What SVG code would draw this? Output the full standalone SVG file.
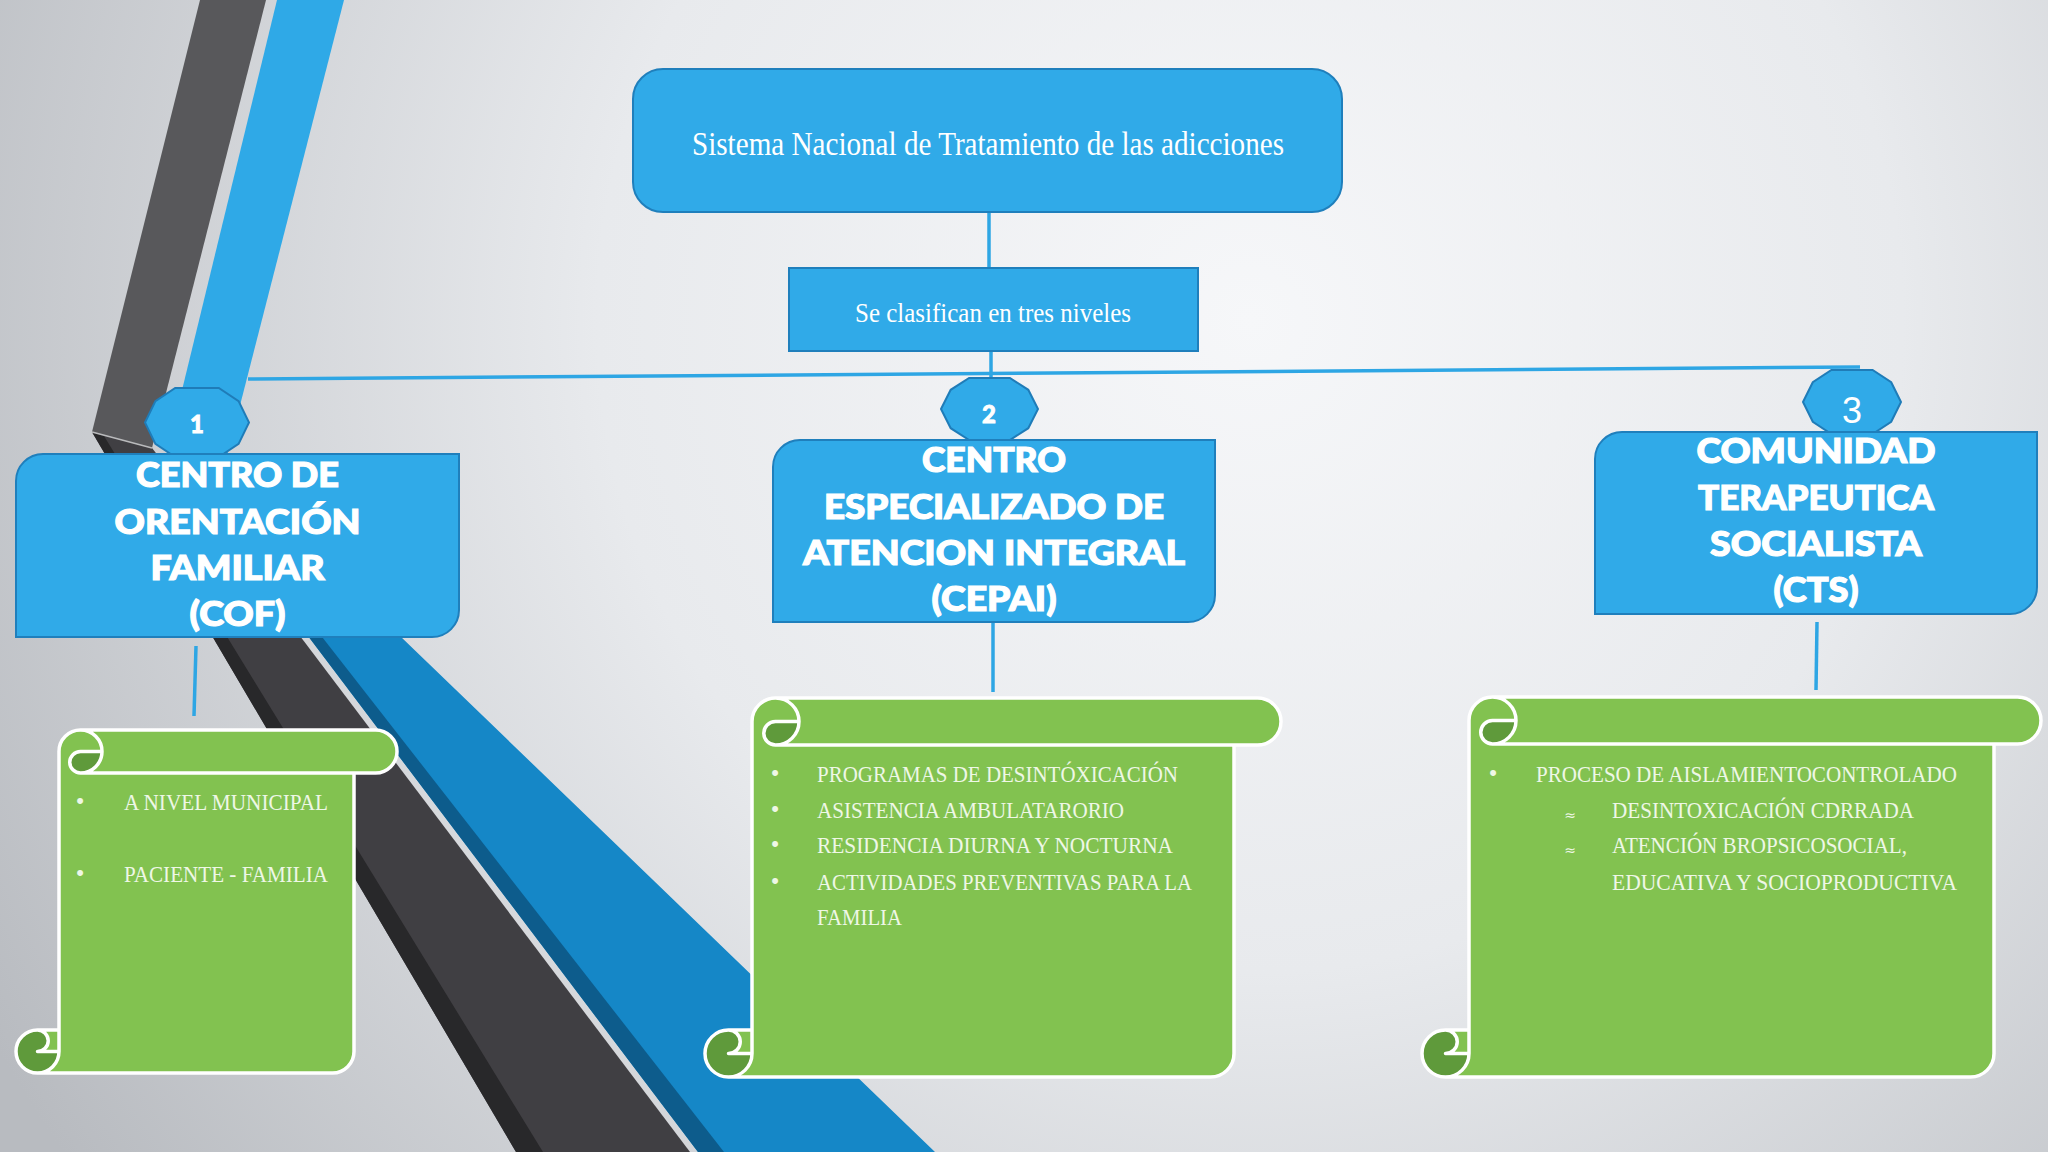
<svg xmlns="http://www.w3.org/2000/svg" width="2048" height="1152" viewBox="0 0 2048 1152">
<defs>
<radialGradient id="bg" gradientUnits="userSpaceOnUse" cx="1250" cy="320" r="1450">
<stop offset="0" stop-color="#f6f7f9"/>
<stop offset="0.45" stop-color="#e8eaed"/>
<stop offset="1" stop-color="#b8bbc0"/>
</radialGradient>
<style>
.hbox{fill:#30aae8;stroke:#1f7fbc;stroke-width:2}
.bdg{fill:#30aae8;stroke:#1f7cb8;stroke-width:2}
.h{font-family:Lato,"Open Sans","Liberation Sans",sans-serif;font-weight:900;font-size:34px;fill:#ffffff;stroke:#ffffff;stroke-width:1.2px;text-anchor:middle}
.num{font-family:Lato,"Open Sans","Liberation Sans",sans-serif;font-weight:900;font-size:24px;fill:#ffffff;stroke:#ffffff;stroke-width:0.8px;text-anchor:middle}
.cal{font-family:"Liberation Serif",serif;fill:#ffffff;text-anchor:middle}
.s{font-family:"Liberation Serif",serif;font-size:24px;fill:#eef7e6}
.bul{font-family:"Liberation Sans",sans-serif;font-size:22px;fill:#eef7e6;text-anchor:middle}
.apx{font-family:"DejaVu Sans",sans-serif;font-size:14px;fill:#eef7e6;text-anchor:middle}
.conn{stroke:#2ea6e4;stroke-width:3.5;fill:none}
.sbody{fill:#82c250;stroke:none}
.scurl{fill:#5f9a3b;stroke:none}
.sline{fill:none;stroke:#ffffff;stroke-width:3.5;stroke-linejoin:round}
</style>
</defs>

<g id="background">
<rect x="0" y="0" width="2048" height="1152" fill="url(#bg)"/>
<polygon points="200,0 266,0 152,448 92,432" fill="#58585b"/>
<polygon points="92,432 152,448 300,636 690,1152 516,1152" fill="#403f43"/>
<polygon points="92,432 104,436 543,1152 516,1152" fill="#28282a"/>
<line x1="92" y1="432" x2="152" y2="448" stroke="#b9babc" stroke-width="1.5"/>
<polygon points="277,0 344,0 226,460 165,460" fill="#2fa9e7"/>
<polygon points="165,460 226,460 400,636 935,1152 698,1152 175,460" fill="#1587c7"/>
<polygon points="175,460 184,460 724,1152 698,1152" fill="#0d5c8c"/>
</g>

<g id="connectors">
<line class="conn" x1="989" y1="212" x2="989" y2="268"/>
<line class="conn" x1="991" y1="351" x2="991" y2="380"/>
<line class="conn" x1="248" y1="379" x2="1860" y2="367" stroke-width="4"/>
<line class="conn" x1="196" y1="646" x2="194" y2="716"/>
<line class="conn" x1="993" y1="623" x2="993" y2="692"/>
<line class="conn" x1="1817" y1="622" x2="1816" y2="690"/>
</g>

<g id="node-sistema">
<rect x="633" y="69" width="709" height="143" rx="30" ry="30" class="hbox"/>
<text class="cal" x="988" y="155" font-size="33" textLength="592" lengthAdjust="spacingAndGlyphs">Sistema Nacional de Tratamiento de las adicciones</text>
</g>

<g id="node-niveles">
<rect x="789" y="268" width="409" height="83" class="hbox"/>
<text class="cal" x="993" y="322" font-size="28" textLength="276" lengthAdjust="spacingAndGlyphs">Se clasifican en tres niveles</text>
</g>

<g id="node-cof">
<polygon class="bdg" points="145,422.5 155.4,401.1 175.2,388 218.8,388 238.6,401.1 249,422.5 238.6,443.9 218.8,457 175.2,457 155.4,443.9"/>
<text class="num" x="197" y="433" font-size="23">1</text>
<path class="hbox" d="M43 454 L459 454 L459 610 A27 27 0 0 1 432 637 L16 637 L16 481 A27 27 0 0 1 43 454 Z"/>
<text class="h" x="237.5" y="487" textLength="203" lengthAdjust="spacingAndGlyphs">CENTRO DE</text>
<text class="h" x="237.5" y="534" textLength="246" lengthAdjust="spacingAndGlyphs">ORENTACIÓN</text>
<text class="h" x="237.5" y="580" textLength="174" lengthAdjust="spacingAndGlyphs">FAMILIAR</text>
<text class="h" x="237.5" y="626" textLength="96" lengthAdjust="spacingAndGlyphs">(COF)</text>
</g>

<g id="node-cepai">
<polygon class="bdg" points="941,409 950.7,389.8 969.1,378 1009.9,378 1028.3,389.8 1038,409 1028.3,428.2 1009.9,440 969.1,440 950.7,428.2"/>
<text class="num" x="989" y="423" font-size="25">2</text>
<path class="hbox" d="M800 440 L1215 440 L1215 595 A27 27 0 0 1 1188 622 L773 622 L773 467 A27 27 0 0 1 800 440 Z"/>
<text class="h" x="994" y="472" textLength="144" lengthAdjust="spacingAndGlyphs">CENTRO</text>
<text class="h" x="994" y="519" textLength="340" lengthAdjust="spacingAndGlyphs">ESPECIALIZADO DE</text>
<text class="h" x="994" y="565" textLength="382" lengthAdjust="spacingAndGlyphs">ATENCION INTEGRAL</text>
<text class="h" x="994" y="611" textLength="125" lengthAdjust="spacingAndGlyphs">(CEPAI)</text>
</g>

<g id="node-cts">
<polygon class="bdg" points="1803,402 1812.8,382.2 1831.4,370 1872.6,370 1891.2,382.2 1901,402 1891.2,421.8 1872.6,434 1831.4,434 1812.8,421.8"/>
<text x="1852" y="423" font-family="'Liberation Sans',sans-serif" font-size="36" fill="#ffffff" text-anchor="middle">3</text>
<path class="hbox" d="M1622 432 L2037 432 L2037 587 A27 27 0 0 1 2010 614 L1595 614 L1595 459 A27 27 0 0 1 1622 432 Z"/>
<text class="h" x="1816" y="463" textLength="239" lengthAdjust="spacingAndGlyphs">COMUNIDAD</text>
<text class="h" x="1816" y="510" textLength="236" lengthAdjust="spacingAndGlyphs">TERAPEUTICA</text>
<text class="h" x="1816" y="556" textLength="212" lengthAdjust="spacingAndGlyphs">SOCIALISTA</text>
<text class="h" x="1816" y="602" textLength="85" lengthAdjust="spacingAndGlyphs">(CTS)</text>
</g>

<g id="node-scroll-cof">
<path class="sbody" d="M37.5 1073 A21.5 21.5 0 0 0 59 1051.5 L37.5 1051.5 A10.75 10.75 0 0 0 37.5 1030 L59 1030 L59 751.5 A21.5 21.5 0 0 1 80.5 730 L375.5 730 A21.5 21.5 0 0 1 375.5 773 L354 773 L354 1051.5 A21.5 21.5 0 0 1 332.5 1073 Z"/>
<path class="scurl" d="M102 751.5 A21.5 21.5 0 0 1 80.5 773 A10.75 10.75 0 0 1 80.5 751.5 Z M59 1051.5 A21.5 21.5 0 1 1 37.5 1030 A10.75 10.75 0 0 1 37.5 1051.5 Z"/>
<path class="sline" d="M59 1030 L59 751.5 A21.5 21.5 0 0 1 80.5 730 L375.5 730 A21.5 21.5 0 0 1 375.5 773 L354 773 L354 1051.5 A21.5 21.5 0 0 1 332.5 1073 L37.5 1073 A21.5 21.5 0 0 1 37.5 1030 Z M80.5 730 A21.5 21.5 0 0 1 80.5 773 A10.75 10.75 0 0 1 80.5 751.5 L102 751.5 M354 773 L80.5 773 M37.5 1030 A10.75 10.75 0 0 1 37.5 1051.5 L59 1051.5 M37.5 1073 A21.5 21.5 0 0 0 59 1051.5 L59 1030"/>
<text class="bul" x="80" y="808">•</text>
<text class="s" x="124" y="810" textLength="204" lengthAdjust="spacingAndGlyphs">A NIVEL MUNICIPAL</text>
<text class="bul" x="80" y="880">•</text>
<text class="s" x="124" y="882" textLength="204" lengthAdjust="spacingAndGlyphs">PACIENTE - FAMILIA</text>
</g>

<g id="node-scroll-cepai">
<path class="sbody" d="M728.5 1077 A23.5 23.5 0 0 0 752 1053.5 L728.5 1053.5 A11.75 11.75 0 0 0 728.5 1030 L752 1030 L752 721.5 A23.5 23.5 0 0 1 775.5 698 L1257.5 698 A23.5 23.5 0 0 1 1257.5 745 L1234 745 L1234 1053.5 A23.5 23.5 0 0 1 1210.5 1077 Z"/>
<path class="scurl" d="M799 721.5 A23.5 23.5 0 0 1 775.5 745 A11.75 11.75 0 0 1 775.5 721.5 Z M752 1053.5 A23.5 23.5 0 1 1 728.5 1030 A11.75 11.75 0 0 1 728.5 1053.5 Z"/>
<path class="sline" d="M752 1030 L752 721.5 A23.5 23.5 0 0 1 775.5 698 L1257.5 698 A23.5 23.5 0 0 1 1257.5 745 L1234 745 L1234 1053.5 A23.5 23.5 0 0 1 1210.5 1077 L728.5 1077 A23.5 23.5 0 0 1 728.5 1030 Z M775.5 698 A23.5 23.5 0 0 1 775.5 745 A11.75 11.75 0 0 1 775.5 721.5 L799 721.5 M1234 745 L775.5 745 M728.5 1030 A11.75 11.75 0 0 1 728.5 1053.5 L752 1053.5 M728.5 1077 A23.5 23.5 0 0 0 752 1053.5 L752 1030"/>
<text class="bul" x="775" y="780">•</text>
<text class="s" x="817" y="782" textLength="361" lengthAdjust="spacingAndGlyphs">PROGRAMAS DE DESINTÓXICACIÓN</text>
<text class="bul" x="775" y="816">•</text>
<text class="s" x="817" y="818" textLength="307" lengthAdjust="spacingAndGlyphs">ASISTENCIA AMBULATARORIO</text>
<text class="bul" x="775" y="851">•</text>
<text class="s" x="817" y="853" textLength="356" lengthAdjust="spacingAndGlyphs">RESIDENCIA DIURNA Y NOCTURNA</text>
<text class="bul" x="775" y="888">•</text>
<text class="s" x="817" y="890" textLength="375" lengthAdjust="spacingAndGlyphs">ACTIVIDADES PREVENTIVAS PARA LA</text>
<text class="s" x="817" y="925" textLength="85" lengthAdjust="spacingAndGlyphs">FAMILIA</text>
</g>

<g id="node-scroll-cts">
<path class="sbody" d="M1445.5 1077 A23.5 23.5 0 0 0 1469 1053.5 L1445.5 1053.5 A11.75 11.75 0 0 0 1445.5 1030 L1469 1030 L1469 720.5 A23.5 23.5 0 0 1 1492.5 697 L2017.5 697 A23.5 23.5 0 0 1 2017.5 744 L1994 744 L1994 1053.5 A23.5 23.5 0 0 1 1970.5 1077 Z"/>
<path class="scurl" d="M1516 720.5 A23.5 23.5 0 0 1 1492.5 744 A11.75 11.75 0 0 1 1492.5 720.5 Z M1469 1053.5 A23.5 23.5 0 1 1 1445.5 1030 A11.75 11.75 0 0 1 1445.5 1053.5 Z"/>
<path class="sline" d="M1469 1030 L1469 720.5 A23.5 23.5 0 0 1 1492.5 697 L2017.5 697 A23.5 23.5 0 0 1 2017.5 744 L1994 744 L1994 1053.5 A23.5 23.5 0 0 1 1970.5 1077 L1445.5 1077 A23.5 23.5 0 0 1 1445.5 1030 Z M1492.5 697 A23.5 23.5 0 0 1 1492.5 744 A11.75 11.75 0 0 1 1492.5 720.5 L1516 720.5 M1994 744 L1492.5 744 M1445.5 1030 A11.75 11.75 0 0 1 1445.5 1053.5 L1469 1053.5 M1445.5 1077 A23.5 23.5 0 0 0 1469 1053.5 L1469 1030"/>
<text class="bul" x="1493" y="780">•</text>
<text class="s" x="1536" y="782" textLength="421" lengthAdjust="spacingAndGlyphs">PROCESO DE AISLAMIENTOCONTROLADO</text>
<text class="apx" x="1570" y="820">≈</text>
<text class="s" x="1612" y="818" textLength="302" lengthAdjust="spacingAndGlyphs">DESINTOXICACIÓN CDRRADA</text>
<text class="apx" x="1570" y="855">≈</text>
<text class="s" x="1612" y="853" textLength="295" lengthAdjust="spacingAndGlyphs">ATENCIÓN BROPSICOSOCIAL,</text>
<text class="s" x="1612" y="890" textLength="345" lengthAdjust="spacingAndGlyphs">EDUCATIVA Y SOCIOPRODUCTIVA</text>
</g>
</svg>
